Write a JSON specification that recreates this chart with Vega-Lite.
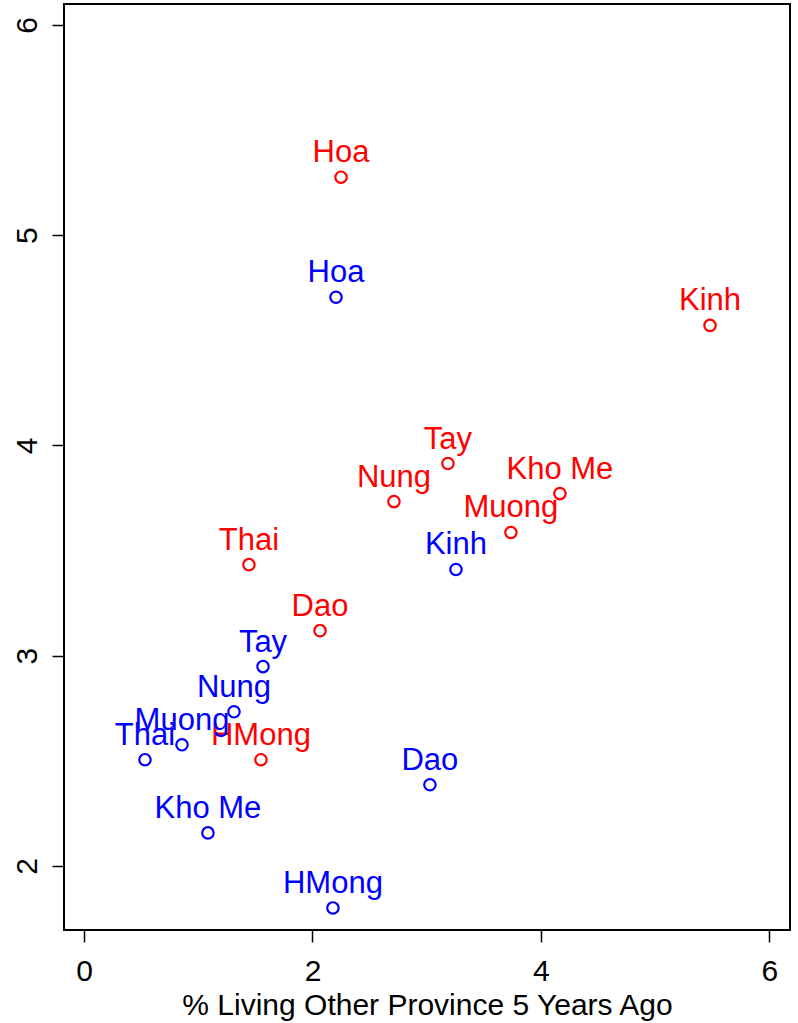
{
  "$schema": "https://vega.github.io/schema/vega-lite/v6.json",
  "autosize": "none",
  "width": 726,
  "height": 926,
  "padding": {"left": 64, "top": 4, "right": 8, "bottom": 93},
  "background": "white",
  "config": {
    "view": {"stroke": "black", "strokeWidth": 2},
    "font": "Liberation Sans",
    "axis": {
      "grid": false,
      "domain": false,
      "tickColor": "black",
      "tickWidth": 1.5,
      "tickSize": 12,
      "labelColor": "black",
      "labelFont": "Liberation Sans",
      "labelFontSize": 30,
      "titleFont": "Liberation Sans",
      "titleFontSize": 30,
      "titleFontWeight": "normal",
      "titleColor": "black"
    }
  },
  "data": {
    "values": [
      {"group": "red", "label": "Hoa", "x": 2.25, "y": 5.276},
      {"group": "red", "label": "Kinh", "x": 5.48, "y": 4.571},
      {"group": "red", "label": "Tay", "x": 3.186, "y": 3.914},
      {"group": "red", "label": "Nung", "x": 2.713, "y": 3.733},
      {"group": "red", "label": "Kho Me", "x": 4.166, "y": 3.771},
      {"group": "red", "label": "Muong", "x": 3.737, "y": 3.586},
      {"group": "red", "label": "Thai", "x": 1.444, "y": 3.433},
      {"group": "red", "label": "Dao", "x": 2.066, "y": 3.119},
      {"group": "red", "label": "HMong", "x": 1.549, "y": 2.505},
      {"group": "blue", "label": "Hoa", "x": 2.206, "y": 4.705},
      {"group": "blue", "label": "Kinh", "x": 3.256, "y": 3.41},
      {"group": "blue", "label": "Tay", "x": 1.567, "y": 2.948},
      {"group": "blue", "label": "Nung", "x": 1.313, "y": 2.733},
      {"group": "blue", "label": "Muong", "x": 0.858, "y": 2.576},
      {"group": "blue", "label": "Thai", "x": 0.534, "y": 2.505},
      {"group": "blue", "label": "Dao", "x": 3.028, "y": 2.386},
      {"group": "blue", "label": "Kho Me", "x": 1.085, "y": 2.157},
      {"group": "blue", "label": "HMong", "x": 2.179, "y": 1.8}
    ]
  },
  "encoding": {
    "x": {
      "field": "x",
      "type": "quantitative",
      "scale": {"domain": [-0.175, 6.18], "nice": false, "zero": false},
      "axis": {"values": [0, 2, 4, 6], "title": "% Living Other Province 5 Years Ago", "labelPadding": 14, "titlePadding": 4}
    },
    "y": {
      "field": "y",
      "type": "quantitative",
      "scale": {"domain": [1.695, 6.1], "nice": false, "zero": false},
      "axis": {"values": [2, 3, 4, 5, 6], "title": null, "labelAngle": -90, "labelAlign": "center", "labelBaseline": "bottom", "labelPadding": 10}
    },
    "color": {
      "field": "group",
      "type": "nominal",
      "scale": {"domain": ["red", "blue"], "range": ["#FF0000", "#0000FF"]},
      "legend": null
    }
  },
  "layer": [
    {"mark": {"type": "point", "shape": "circle", "filled": false, "size": 130, "strokeWidth": 2.2, "opacity": 1}},
    {"mark": {"type": "text", "fontSize": 31, "baseline": "alphabetic", "align": "center", "dy": -15}, "encoding": {"text": {"field": "label"}}}
  ]
}
